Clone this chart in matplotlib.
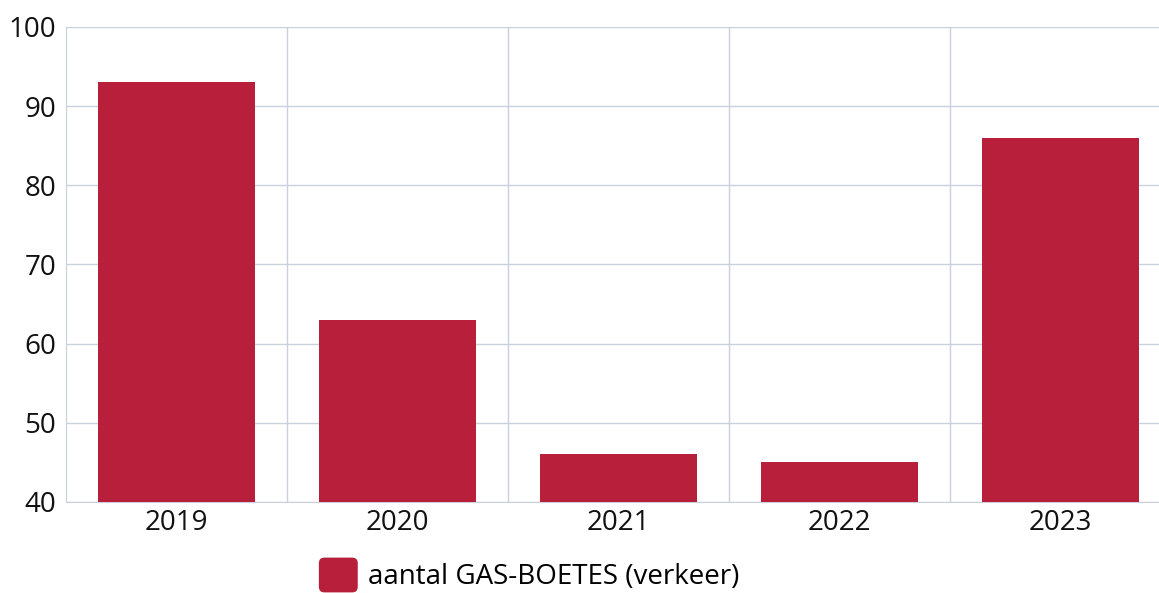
import matplotlib.pyplot as plt
from matplotlib.patches import FancyBboxPatch
from matplotlib.legend_handler import HandlerPatch

years = ['2019', '2020', '2021', '2022', '2023']
boetes = [93, 63, 46, 45, 86]
series_label = 'aantal GAS-BOETES (verkeer)'

bar_color = '#B71F3A'
grid_color = '#C9D1DC'

plt.rcParams['font.family'] = ['Open Sans', 'DejaVu Sans']

fig = plt.figure(figsize=(11.59, 5.93), dpi=100)
# plot area runs slightly past the right edge, like the original
ax = fig.add_axes([66 / 1159, 91 / 593, 1105 / 1159, 475 / 593])

x = range(len(years))
bars = ax.bar(x, boetes, width=0.71, color=bar_color, label=series_label, zorder=3)

ax.set_xlim(-0.5, len(years) - 0.5)
ax.set_ylim(40, 100)
ax.set_yticks(range(40, 101, 10))
ax.set_xticks(list(x))
ax.set_xticklabels(years)
# category boundaries as vertical grid lines
ax.set_xticks([i + 0.5 for i in range(len(years) - 1)], minor=True)
ax.grid(axis='y', color=grid_color, linewidth=1, zorder=0)
ax.grid(axis='x', which='minor', color=grid_color, linewidth=1, zorder=0)
ax.tick_params(axis='both', which='both', length=0)
ax.tick_params(axis='y', labelsize=20, pad=7, colors='#111111')
ax.tick_params(axis='x', labelsize=20, pad=5, colors='#111111')

for side in ['top', 'right']:
    ax.spines[side].set_visible(False)
ax.spines['left'].set_color(grid_color)
ax.spines['bottom'].set_color(grid_color)


class RoundBox(HandlerPatch):
    def create_artists(self, legend, orig_handle, xdescent, ydescent,
                       width, height, fontsize, trans):
        p = FancyBboxPatch((-xdescent, -ydescent), width, height,
                           boxstyle='round,pad=0,rounding_size=4',
                           facecolor=bar_color, edgecolor='none',
                           transform=trans)
        return [p]


fig.legend(handles=[bars.patches[0]], labels=[series_label],
           handler_map={bars.patches[0]: RoundBox()},
           loc='center', bbox_to_anchor=(529 / 1159, 1 - 575 / 593),
           frameon=False, fontsize=20, handlelength=1.4, handleheight=1.55,
           handletextpad=0.36, borderpad=0)

fig.savefig('out.png', dpi=100)
